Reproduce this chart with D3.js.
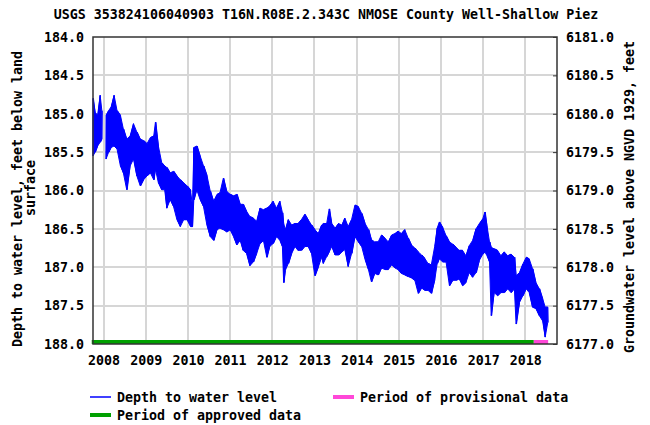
<!DOCTYPE html>
<html>
<head>
<meta charset="utf-8">
<script src="https://cdn.jsdelivr.net/npm/d3@7"></script>
<style>
  body { margin: 0; background: #fff; }
  text { font-family: "DejaVu Sans Mono", monospace; font-weight: bold; font-size: 13.3px; fill: #000; }
</style>
</head>
<body>
<svg id="chart" width="650" height="425"></svg>
<script>
// decimal years; null marks the gap in early 2008
const years = [
  2007.75, 2007.80, 2007.86, 2007.92, 2007.96, 2008.01, 2008.06, 2008.12, 2008.18, 2008.25,
  2008.32, 2008.40, 2008.47, 2008.55, 2008.63, 2008.71, 2008.79, 2008.87, 2008.95, 2009.03,
  2009.11, 2009.19, 2009.23, 2009.30, 2009.38, 2009.45, 2009.50, 2009.58, 2009.66, 2009.74,
  2009.82, 2009.90, 2009.98, 2010.06, 2010.11, 2010.14, 2010.21, 2010.29, 2010.37, 2010.45,
  2010.53, 2010.61, 2010.69, 2010.76, 2010.84, 2010.92, 2011.00, 2011.08, 2011.16, 2011.24,
  2011.31, 2011.39, 2011.47, 2011.55, 2011.63, 2011.71, 2011.79, 2011.87, 2011.94, 2012.02,
  2012.10, 2012.18, 2012.24, 2012.27, 2012.31, 2012.38, 2012.46, 2012.54, 2012.61, 2012.69,
  2012.77, 2012.85, 2012.93, 2013.01, 2013.09, 2013.17, 2013.21, 2013.29, 2013.35, 2013.41,
  2013.49, 2013.57, 2013.65, 2013.72, 2013.80, 2013.88, 2013.96, 2014.04, 2014.12, 2014.20,
  2014.28, 2014.35, 2014.43, 2014.51, 2014.59, 2014.67, 2014.75, 2014.83, 2014.91, 2014.98,
  2015.06, 2015.14, 2015.22, 2015.30, 2015.38, 2015.46, 2015.54, 2015.61, 2015.69, 2015.77,
  2015.85, 2015.91, 2015.96, 2016.04, 2016.12, 2016.20, 2016.28, 2016.36, 2016.43, 2016.51,
  2016.59, 2016.67, 2016.75, 2016.83, 2016.91, 2016.99, 2017.04, 2017.09, 2017.15, 2017.19,
  2017.26, 2017.34, 2017.42, 2017.50, 2017.58, 2017.66, 2017.74, 2017.78, 2017.86, 2017.94,
  2018.02, 2018.09, 2018.17, 2018.25, 2018.33, 2018.41, 2018.47, 2018.53
];
// shallowest depth seen in each interval (top of the noisy band)
const shallow = [
  184.80, 184.98, 185.02, 184.76, 184.96, null, 185.02, 184.96, 184.91, 184.76,
  184.96, 185.02, 185.20, 185.33, 185.29, 185.13, 185.24, 185.33, 185.35, 185.39,
  185.31, 185.29, 185.11, 185.42, 185.64, 185.68, 185.70, 185.77, 185.75, 185.81,
  185.86, 185.90, 185.94, 185.99, 186.21, 185.44, 185.42, 185.55, 185.68, 185.80,
  186.01, 186.14, 186.05, 186.03, 185.84, 186.01, 186.05, 186.07, 186.05, 186.18,
  186.18, 186.27, 186.34, 186.36, 186.40, 186.23, 186.25, 186.23, 186.20, 186.14,
  186.23, 186.14, 186.29, 186.43, 186.51, 186.38, 186.45, 186.43, 186.43, 186.38,
  186.31, 186.38, 186.45, 186.51, 186.56, 186.45, 186.43, 186.43, 186.24, 186.43,
  186.49, 186.43, 186.45, 186.36, 186.47, 186.38, 186.19, 186.21, 186.30, 186.43,
  186.51, 186.64, 186.67, 186.67, 186.58, 186.62, 186.67, 186.58, 186.56, 186.53,
  186.56, 186.51, 186.62, 186.71, 186.75, 186.80, 186.84, 186.88, 186.95, 186.97,
  186.73, 186.49, 186.41, 186.48, 186.59, 186.67, 186.70, 186.74, 186.78, 186.78,
  186.85, 186.72, 186.65, 186.50, 186.43, 186.37, 186.28, 186.46, 186.67, 186.74,
  186.76, 186.78, 186.85, 186.80, 186.85, 186.83, 186.87, 187.11, 187.07, 186.96,
  186.87, 186.89, 187.02, 187.20, 187.28, 187.41, 187.52, 187.52
];
// deepest depth seen in each interval (bottom of the band)
const deep = [
  185.55, 185.50, 185.42, 185.37, 185.33, null, 185.59, 185.50, 185.44, 185.42,
  185.46, 185.68, 185.77, 185.99, 185.68, 185.59, 185.81, 185.94, 185.86, 185.81,
  185.77, 185.86, 185.72, 185.90, 185.99, 185.99, 186.23, 186.12, 186.21, 186.38,
  186.47, 186.38, 186.38, 186.47, 186.47, 186.12, 185.99, 186.12, 186.21, 186.45,
  186.60, 186.65, 186.51, 186.49, 186.51, 186.54, 186.51, 186.60, 186.71, 186.65,
  186.78, 186.82, 186.98, 186.93, 186.82, 186.69, 186.65, 186.87, 186.73, 186.69,
  186.60, 186.65, 186.73, 187.20, 187.04, 186.95, 186.82, 186.73, 186.78, 186.78,
  186.73, 186.73, 186.82, 187.11, 187.00, 186.87, 186.95, 186.86, 186.80, 186.73,
  186.84, 186.84, 186.80, 186.77, 186.99, 186.82, 186.60, 186.67, 186.73, 186.90,
  187.03, 187.19, 187.08, 187.10, 187.01, 187.03, 187.03, 186.97, 187.01, 187.03,
  187.08, 187.10, 187.12, 187.14, 187.17, 187.34, 187.27, 187.30, 187.30, 187.34,
  187.17, 186.95, 186.89, 186.93, 186.93, 187.24, 187.17, 187.17, 187.15, 187.24,
  187.20, 187.07, 187.13, 187.07, 186.91, 186.83, 186.80, 186.85, 186.93, 187.63,
  187.33, 187.37, 187.33, 187.33, 187.28, 187.33, 187.28, 187.74, 187.46, 187.37,
  187.28, 187.33, 187.52, 187.54, 187.63, 187.70, 187.91, 187.72
];

const depthTicks = [184.0, 184.5, 185.0, 185.5, 186.0, 186.5, 187.0, 187.5, 188.0];
const elevTicks = [6181.0, 6180.5, 6180.0, 6179.5, 6179.0, 6178.5, 6178.0, 6177.5, 6177.0];
const yearTicks = [2008, 2009, 2010, 2011, 2012, 2013, 2014, 2015, 2016, 2017, 2018];
const approvedPeriod = [2007.72, 2018.20];
const provisionalPeriod = [2018.20, 2018.54];

const blue = "#0000ff";
const green = "#00a000";
const pink = "#ff48d8";

const plotLeft = 93, plotRight = 557, plotTop = 37, plotBottom = 344;

const svg = d3.select("#chart");

const x = d3.scaleLinear().domain([2007.75, 2018.75]).range([plotLeft, plotRight]);
const y = d3.scaleLinear().domain([184, 188]).range([plotTop, plotBottom]);
const yRight = d3.scaleLinear().domain([6181, 6177]).range([plotTop, plotBottom]);

// grid
svg.append("g")
  .selectAll("line")
  .data(yearTicks)
  .join("line")
  .attr("x1", d => Math.round(x(d)))
  .attr("x2", d => Math.round(x(d)))
  .attr("y1", plotTop)
  .attr("y2", plotBottom)
  .attr("stroke", "#d6d6d6")
  .attr("stroke-width", 2);

svg.append("g")
  .selectAll("line")
  .data(depthTicks.slice(1, -1))
  .join("line")
  .attr("x1", plotLeft)
  .attr("x2", plotRight)
  .attr("y1", d => Math.round(y(d)))
  .attr("y2", d => Math.round(y(d)))
  .attr("stroke", "#d6d6d6")
  .attr("stroke-width", 2);

// water level band, plus a zigzag through the extremes for a noisier edge
const pts = years.map((t, i) => ({ t: t, lo: shallow[i], hi: deep[i] }));
const band = d3.area()
  .defined(d => d.lo != null)
  .x(d => x(d.t))
  .y0(d => y(d.lo))
  .y1(d => y(d.hi));

svg.append("path")
  .datum(pts)
  .attr("d", band)
  .attr("fill", blue)
  .attr("stroke", blue)
  .attr("stroke-width", 1);

const zig = [];
pts.forEach((d, i) => {
  if (d.lo == null) { zig.push(null); return; }
  zig.push({ t: d.t, v: i % 2 ? d.lo : d.hi });
  zig.push({ t: d.t + 0.01, v: i % 2 ? d.hi : d.lo });
});
svg.append("path")
  .datum(zig)
  .attr("d", d3.line().defined(d => d != null).x(d => x(d.t)).y(d => y(d.v)))
  .attr("fill", "none")
  .attr("stroke", blue)
  .attr("stroke-width", 1);

// approval status bars along the bottom
svg.append("line")
  .attr("x1", x(approvedPeriod[0]))
  .attr("x2", x(approvedPeriod[1]))
  .attr("y1", plotBottom - 2)
  .attr("y2", plotBottom - 2)
  .attr("stroke", green)
  .attr("stroke-width", 4);

svg.append("line")
  .attr("x1", x(provisionalPeriod[0]))
  .attr("x2", x(provisionalPeriod[1]))
  .attr("y1", plotBottom - 2)
  .attr("y2", plotBottom - 2)
  .attr("stroke", pink)
  .attr("stroke-width", 4);

// frame
svg.append("rect")
  .attr("x", plotLeft)
  .attr("y", plotTop)
  .attr("width", plotRight - plotLeft)
  .attr("height", plotBottom - plotTop)
  .attr("fill", "none")
  .attr("stroke", "#333")
  .attr("stroke-width", 1.5);

// axes
const leftAxis = d3.axisLeft(y).tickValues(depthTicks).tickFormat(d3.format(".1f")).tickSize(0).tickPadding(9);
svg.append("g").attr("transform", `translate(${plotLeft},0)`).call(leftAxis);

const rightAxis = d3.axisRight(yRight).tickValues(elevTicks).tickFormat(d3.format(".1f")).tickSize(-4).tickPadding(9);
svg.append("g").attr("transform", `translate(${plotRight},0)`).call(rightAxis);

const bottomAxis = d3.axisBottom(x).tickValues(yearTicks).tickFormat(d3.format("d")).tickSize(0).tickPadding(12);
svg.append("g").attr("transform", `translate(0,${plotBottom})`).call(bottomAxis);

svg.selectAll(".domain").remove();
svg.selectAll(".tick line").attr("stroke", "#333");
svg.selectAll("g[font-family]").attr("font-family", null).attr("font-size", null);

// titles
svg.append("text")
  .attr("x", 326)
  .attr("y", 19)
  .attr("text-anchor", "middle")
  .text("USGS 353824106040903 T16N.R08E.2.343C NMOSE County Well-Shallow Piez");

svg.append("text")
  .attr("transform", "translate(22,199) rotate(-90)")
  .attr("text-anchor", "middle")
  .text("Depth to water level, feet below land");

svg.append("text")
  .attr("transform", "translate(35,188) rotate(-90)")
  .attr("text-anchor", "middle")
  .text("surface");

svg.append("text")
  .attr("transform", "translate(634,197) rotate(-90)")
  .attr("text-anchor", "middle")
  .text("Groundwater level above NGVD 1929, feet");

// legend
const legend = [
  { label: "Depth to water level", color: blue, w: 1.5, x: 90, y: 397 },
  { label: "Period of provisional data", color: pink, w: 4, x: 333, y: 397 },
  { label: "Period of approved data", color: green, w: 4, x: 90, y: 415 }
];

const lg = svg.append("g")
  .selectAll("g")
  .data(legend)
  .join("g")
  .attr("transform", d => `translate(${d.x},${d.y})`);

lg.append("line")
  .attr("x1", 0)
  .attr("x2", 21)
  .attr("stroke", d => d.color)
  .attr("stroke-width", d => d.w);

lg.append("text")
  .attr("x", 27)
  .attr("y", 5)
  .text(d => d.label);
</script>
</body>
</html>
